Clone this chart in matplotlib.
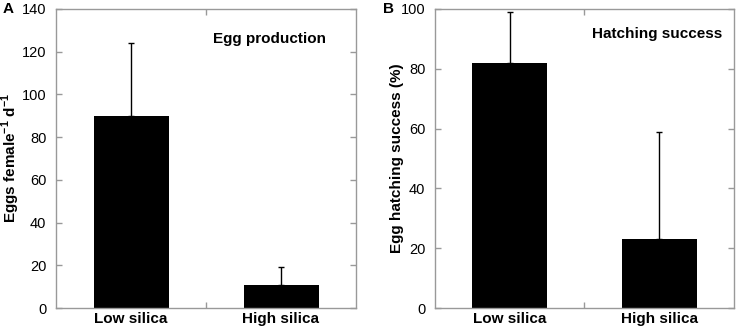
import matplotlib
matplotlib.use('Agg')
import matplotlib.pyplot as plt

plt.rcParams['font.family'] = ['Liberation Sans', 'DejaVu Sans']
plt.rcParams['mathtext.fontset'] = 'custom'
plt.rcParams['mathtext.rm'] = 'Liberation Sans'
plt.rcParams['mathtext.bf'] = 'Liberation Sans:bold'

categories = ['Low silica', 'High silica']
egg_production = [90, 11]
egg_production_err = [34, 8]
hatching = [82, 23]
hatching_err = [17, 36]

frame_col = '#999999'


def style_axes(ax, ymax, ystep):
    ax.set_xlim(0.5, 2.5)
    ax.set_ylim(0, ymax)
    ax.set_yticks(range(0, ymax + 1, ystep))
    ax.set_xticks([1.5])
    ax.set_xticklabels([''])
    for s in ax.spines.values():
        s.set_color(frame_col)
        s.set_linewidth(1)
    ax.tick_params(direction='in', color=frame_col, length=4, width=1,
                   top=True, right=True, labelsize=10.5, pad=7)
    for i, c in enumerate(categories):
        ax.text(i + 1, -0.013 * ymax, c, ha='center', va='top',
                fontsize=11, fontweight='bold')


fig = plt.figure(figsize=(7.37, 3.31), dpi=100)
axA = fig.add_axes([56 / 737, 23 / 331, 300 / 737, 299 / 331])
axB = fig.add_axes([435 / 737, 23 / 331, 299 / 737, 299 / 331])

x = [1, 2]
axA.bar(x, egg_production, width=0.5, color='black', zorder=2)
axA.errorbar(x, egg_production, yerr=[[0, 0], egg_production_err], fmt='none',
             ecolor='black', elinewidth=1, capsize=2, capthick=1, zorder=1)
style_axes(axA, 140, 20)
fig.text(11 / 737, 1 - 158 / 331, r'Eggs female$^{\mathbf{-1}}$ d$^{\mathbf{-1}}$',
         rotation=90, ha='center', va='center', fontsize=11, fontweight='bold')
axA.text(0.9, 0.9, 'Egg production', transform=axA.transAxes, ha='right',
         va='center', fontsize=11, fontweight='bold')
fig.text(3 / 737, 1 - 9 / 331, 'A', fontsize=11, fontweight='bold', va='center')

axB.bar(x, hatching, width=0.5, color='black', zorder=2)
axB.errorbar(x, hatching, yerr=[[0, 0], hatching_err], fmt='none',
             ecolor='black', elinewidth=1, capsize=2, capthick=1, zorder=1)
style_axes(axB, 100, 20)
fig.text(397 / 737, 1 - 158 / 331, 'Egg hatching success (%)', rotation=90,
         ha='center', va='center', fontsize=11, fontweight='bold')
axB.text(0.96, 0.915, 'Hatching success', transform=axB.transAxes, ha='right',
         va='center', fontsize=11, fontweight='bold')
fig.text(383 / 737, 1 - 9 / 331, 'B', fontsize=11, fontweight='bold', va='center')

fig.savefig('out.png', dpi=100)
